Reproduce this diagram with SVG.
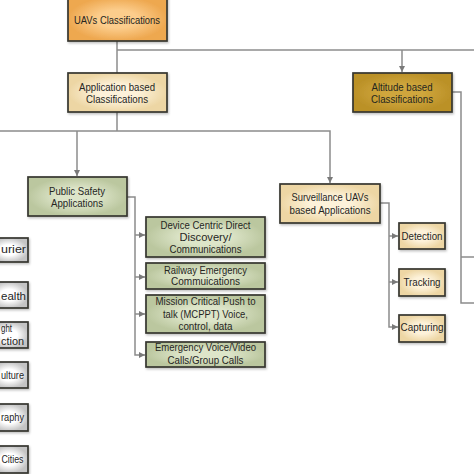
<svg xmlns="http://www.w3.org/2000/svg" width="474" height="474" viewBox="0 0 474 474">
<style>
text{font-family:"Liberation Sans",Arial,sans-serif;font-size:11px;fill:#26261f;text-anchor:middle}
.b{stroke:#363630;stroke-width:1.7;filter:url(#sh)}
.c{fill:none;stroke:#8c8c8c;stroke-width:1.5}
.a{marker-end:url(#ar)}
.l{text-anchor:end}
.s{text-anchor:start}
</style>
<defs>
<filter id="sh" x="-10%" y="-10%" width="125%" height="130%"><feDropShadow dx="1" dy="1.5" stdDeviation="1" flood-color="#000" flood-opacity="0.25"/></filter>
<marker id="ar" viewBox="0 0 6 6" refX="6" refY="3" markerWidth="6" markerHeight="6" markerUnits="userSpaceOnUse" orient="auto"><path d="M0,0L6,3L0,6z" fill="#7a7a7a"/></marker>
<radialGradient id="gO"><stop offset="0.4" stop-color="#fccd8c"/><stop offset="1" stop-color="#eea850"/></radialGradient>
<radialGradient id="gC"><stop offset="0.4" stop-color="#fdf2da"/><stop offset="1" stop-color="#edd6a4"/></radialGradient>
<radialGradient id="gG"><stop offset="0.4" stop-color="#cfa63c"/><stop offset="1" stop-color="#bb9128"/></radialGradient>
<radialGradient id="gN"><stop offset="0.4" stop-color="#dde5c9"/><stop offset="1" stop-color="#bbc79f"/></radialGradient>
<radialGradient id="gW"><stop offset="0.45" stop-color="#ffffff"/><stop offset="1" stop-color="#c4c4c4"/></radialGradient>
</defs>
<g id="connectors">
<path class="c" d="M117,41V73"/>
<path class="c" d="M117,50H474"/>
<path class="c a" d="M402,50V72"/>
<path class="c" d="M117,112V131"/>
<path class="c a" d="M0,131H330V183"/>
<path class="c a" d="M77,131V176"/>
<path class="c" d="M452,92H461V303H474"/>
<path class="c" d="M461,257H474"/>
<path class="c a" d="M127,197H135V355H145"/>
<path class="c a" d="M135,235H145"/>
<path class="c a" d="M135,277H145"/>
<path class="c a" d="M135,314H145"/>
<path class="c a" d="M380,203H389V327H398"/>
<path class="c a" d="M389,236H398"/>
<path class="c a" d="M389,282H398"/>
</g>
<g id="uavs"><rect class="b" x="68" y="-3" width="99" height="44" fill="url(#gO)"/><text x="117" y="24" textLength="86" lengthAdjust="spacingAndGlyphs">UAVs Classifications</text></g>
<g id="application"><rect class="b" x="68" y="73" width="99" height="39" fill="url(#gC)"/><text x="117" y="90.5" textLength="76" lengthAdjust="spacingAndGlyphs">Application based</text><text x="117" y="102.5" textLength="62" lengthAdjust="spacingAndGlyphs">Classifications</text></g>
<g id="altitude"><rect class="b" x="353" y="73" width="99" height="39" fill="url(#gG)"/><text x="402" y="90.5" textLength="61" lengthAdjust="spacingAndGlyphs">Altitude based</text><text x="402" y="102.5" textLength="62" lengthAdjust="spacingAndGlyphs">Classifications</text></g>
<g id="public-safety"><rect class="b" x="28" y="177" width="99" height="39" fill="url(#gN)"/><text x="77" y="194.5" textLength="56" lengthAdjust="spacingAndGlyphs">Public Safety</text><text x="77" y="206.5" textLength="52" lengthAdjust="spacingAndGlyphs">Applications</text></g>
<g id="surveillance"><rect class="b" x="280" y="184" width="100" height="39" fill="url(#gC)"/><text x="330" y="201" textLength="77" lengthAdjust="spacingAndGlyphs">Surveillance UAVs</text><text x="330" y="213.5" textLength="81" lengthAdjust="spacingAndGlyphs">based Applications</text></g>
<g id="device"><rect class="b" x="146" y="217" width="119" height="40" fill="url(#gN)"/><text x="205.5" y="228.7" textLength="90" lengthAdjust="spacingAndGlyphs">Device Centric Direct</text><text x="205.5" y="241" textLength="52" lengthAdjust="spacingAndGlyphs">Discovery/</text><text x="205.5" y="253" textLength="72" lengthAdjust="spacingAndGlyphs">Communications</text></g>
<g id="railway"><rect class="b" x="146" y="263" width="119" height="26" fill="url(#gN)"/><text x="205.5" y="273.7" textLength="83" lengthAdjust="spacingAndGlyphs">Railway Emergency</text><text x="205.5" y="285.4" textLength="69" lengthAdjust="spacingAndGlyphs">Commuications</text></g>
<g id="mission"><rect class="b" x="146" y="295" width="119" height="38" fill="url(#gN)"/><text x="205.5" y="305.4" textLength="100" lengthAdjust="spacingAndGlyphs">Mission Critical Push to</text><text x="205.5" y="317.7" textLength="85" lengthAdjust="spacingAndGlyphs">talk (MCPPT) Voice,</text><text x="205.5" y="329.7" textLength="54" lengthAdjust="spacingAndGlyphs">control, data</text></g>
<g id="emergency"><rect class="b" x="146" y="342" width="119" height="25" fill="url(#gN)"/><text x="205.5" y="351.4" textLength="101" lengthAdjust="spacingAndGlyphs">Emergency Voice/Video</text><text x="205.5" y="363.7" textLength="76" lengthAdjust="spacingAndGlyphs">Calls/Group Calls</text></g>
<g id="detection"><rect class="b" x="399" y="223" width="46" height="26" fill="url(#gC)"/><text x="422" y="240" textLength="41" lengthAdjust="spacingAndGlyphs">Detection</text></g>
<g id="tracking"><rect class="b" x="399" y="269" width="46" height="27" fill="url(#gC)"/><text x="422" y="286" textLength="37" lengthAdjust="spacingAndGlyphs">Tracking</text></g>
<g id="capturing"><rect class="b" x="399" y="315" width="46" height="27" fill="url(#gC)"/><text x="422" y="331" textLength="43" lengthAdjust="spacingAndGlyphs">Capturing</text></g>
<g id="courier"><rect class="b" x="-10" y="238" width="38" height="24" fill="url(#gW)"/><text class="s" x="1" y="253" textLength="25" lengthAdjust="spacingAndGlyphs">urier</text></g>
<g id="health"><rect class="b" x="-10" y="282" width="38" height="26" fill="url(#gW)"/><text class="s" x="1" y="299.5" textLength="25" lengthAdjust="spacingAndGlyphs">ealth</text></g>
<g id="light"><rect class="b" x="-10" y="322" width="38" height="26" fill="url(#gW)"/><text class="s" x="1" y="332" textLength="11" lengthAdjust="spacingAndGlyphs">ght</text><text class="s" x="1" y="344.5" textLength="23" lengthAdjust="spacingAndGlyphs">ction</text></g>
<g id="culture"><rect class="b" x="-10" y="362" width="38" height="26" fill="url(#gW)"/><text class="s" x="1" y="378.7" textLength="23" lengthAdjust="spacingAndGlyphs">ulture</text></g>
<g id="photography"><rect class="b" x="-10" y="404" width="38" height="27" fill="url(#gW)"/><text class="s" x="1" y="421" textLength="23" lengthAdjust="spacingAndGlyphs">raphy</text></g>
<g id="cities"><rect class="b" x="-10" y="446" width="38" height="27" fill="url(#gW)"/><text class="s" x="1.5" y="463" textLength="22" lengthAdjust="spacingAndGlyphs">Cities</text></g>
</svg>
